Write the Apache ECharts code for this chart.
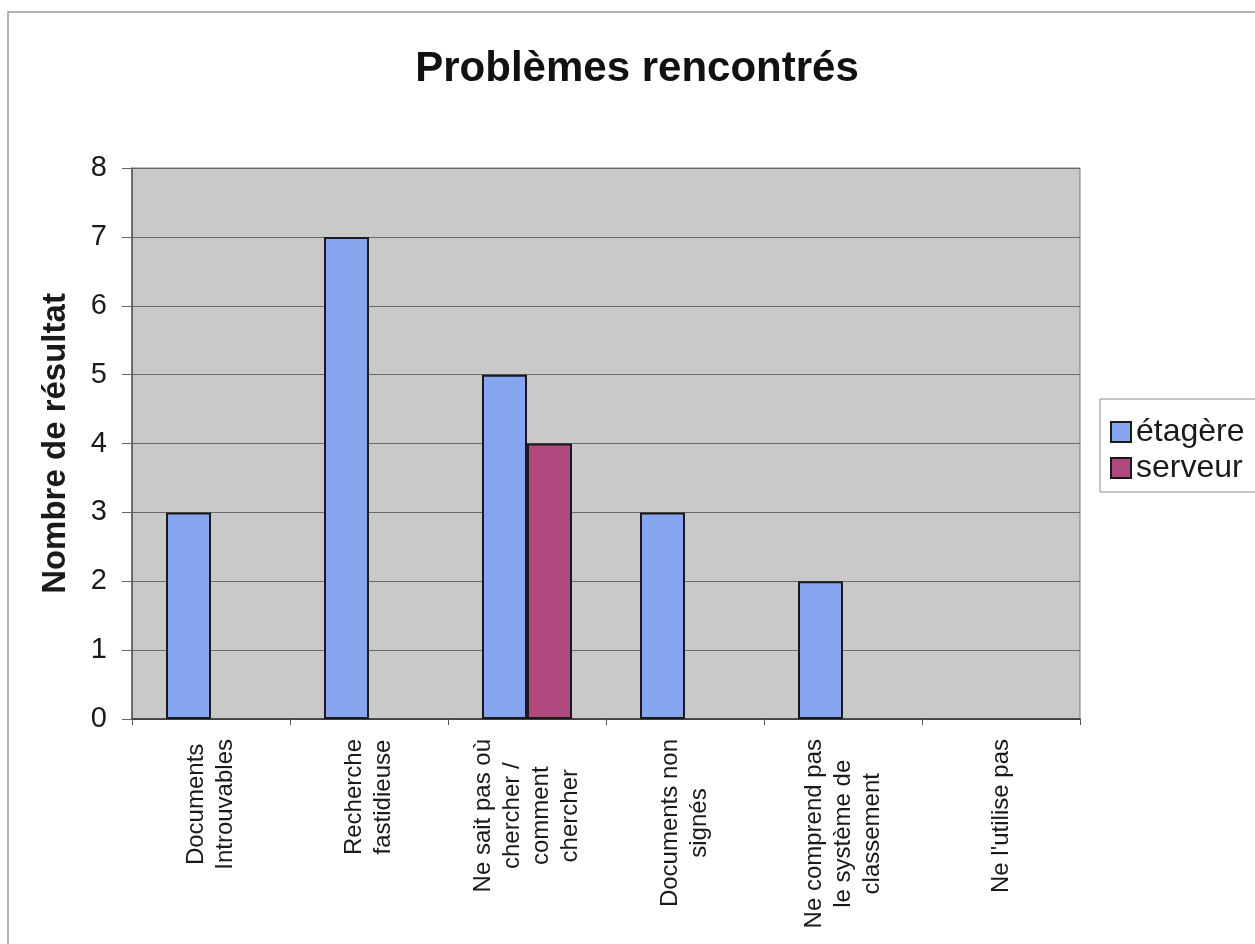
<!DOCTYPE html>
<html>
<head>
<meta charset="utf-8">
<script src="https://cdn.jsdelivr.net/npm/echarts@6/dist/echarts.min.js"></script>
<style>html,body{margin:0;padding:0;background:#fff;}#c{width:1255px;height:944px;}</style>
</head>
<body>
<div id="c"></div>
<script>
const categories = [
  "Documents\nIntrouvables",
  "Recherche\nfastidieuse",
  "Ne sait pas où\nchercher /\ncomment\nchercher",
  "Documents non\nsignés",
  "Ne comprend pas\nle système de\nclassement",
  "Ne l'utilise pas"
];
const etagere = [3, 7, 5, 3, 2, 0];
const serveur = [0, 0, 4, 0, 0, 0];
const yTicks = [0, 1, 2, 3, 4, 5, 6, 7, 8];

const chart = echarts.init(document.getElementById('c'));
const font = 'Liberation Sans, Arial, sans-serif';
const hideZero = arr => arr.map(v => (v === 0 ? null : v));

chart.setOption({
  backgroundColor: '#ffffff',
  animation: false,
  textStyle: { fontFamily: font },
  graphic: [{
    type: 'rect',
    shape: { x: 8, y: 12, width: 1400, height: 1100 },
    style: { fill: 'none', stroke: '#9a9a9a', lineWidth: 1.5 },
    silent: true
  }],
  title: {
    text: 'Problèmes rencontrés',
    left: 632,
    textAlign: 'center',
    top: 43,
    textStyle: { fontFamily: font, fontSize: 42, fontWeight: 'bold', color: '#111' }
  },
  legend: {
    orient: 'vertical',
    left: 1100,
    top: 399,
    padding: [17, 12, 8, 10],
    itemGap: 4,
    itemWidth: 20,
    itemHeight: 20,
    itemTextGap: 8,
    icon: 'rect',
    backgroundColor: '#ffffff',
    borderColor: '#8a8a8a',
    borderWidth: 1,
    borderRadius: 0,
    itemStyle: { borderColor: '#1a1a1a', borderWidth: 2 },
    textStyle: { fontFamily: font, fontSize: 32, color: '#1a1a1a' },
    data: ['étagère', 'serveur']
  },
  grid: {
    left: 132, top: 168, right: 175, bottom: 225,
    show: true,
    backgroundColor: '#c9c9c9',
    borderColor: '#7a7a7a',
    borderWidth: 1
  },
  xAxis: {
    type: 'category',
    data: categories,
    boundaryGap: true,
    axisLine: { show: true, lineStyle: { color: '#333', width: 1.5 } },
    axisTick: { show: true, length: 6, interval: 0, alignWithLabel: false, lineStyle: { color: '#555' } },
    axisLabel: {
      interval: 0,
      rotate: 90,
      margin: 20,
      color: '#1a1a1a',
      fontFamily: font,
      fontSize: 24,
      lineHeight: 29,
      formatter: v => v.split('\n').map(l => '{c|' + l + '}').join('\n'),
      rich: { c: { align: 'center', fontFamily: font, fontSize: 24, lineHeight: 29, color: '#1a1a1a' } }
    },
    splitLine: { show: false }
  },
  yAxis: {
    type: 'value',
    min: yTicks[0],
    max: yTicks[yTicks.length - 1],
    interval: 1,
    name: 'Nombre de résultat',
    nameLocation: 'middle',
    nameGap: 60,
    nameRotate: 90,
    nameTextStyle: { fontFamily: font, fontSize: 33, fontWeight: 'bold', color: '#1a1a1a' },
    axisLine: { show: true, lineStyle: { color: '#555', width: 1.5 } },
    axisTick: { show: true, length: 10, lineStyle: { color: '#666' } },
    axisLabel: { margin: 25, fontFamily: font, fontSize: 29, color: '#1a1a1a' },
    splitLine: { show: true, lineStyle: { color: '#6a6a6a', width: 1 } }
  },
  series: [
    {
      name: 'étagère',
      type: 'bar',
      data: hideZero(etagere),
      barWidth: 45,
      barGap: '0%',
      itemStyle: { color: '#86a6f0', borderColor: '#1a1a1a', borderWidth: 2 }
    },
    {
      name: 'serveur',
      type: 'bar',
      data: hideZero(serveur),
      barWidth: 45,
      barGap: '0%',
      itemStyle: { color: '#b04a7e', borderColor: '#1a1a1a', borderWidth: 2 }
    }
  ]
});
</script>
</body>
</html>
